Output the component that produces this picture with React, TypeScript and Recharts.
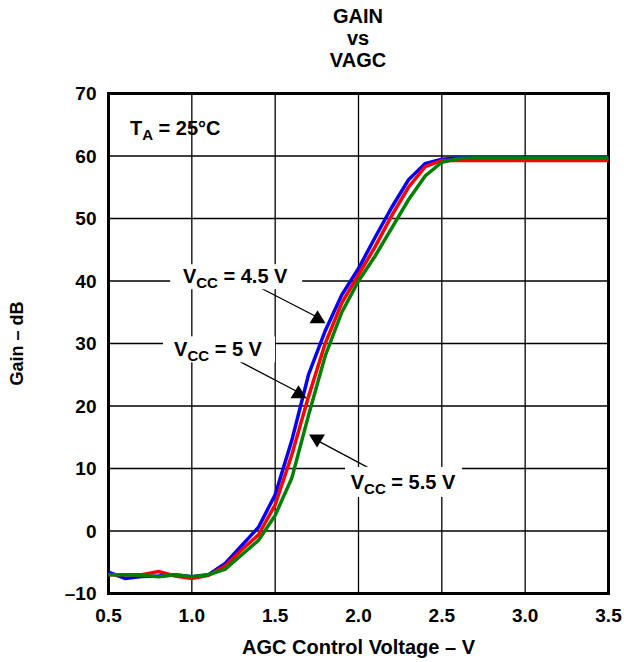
import React from 'react';
import {
  LineChart,
  Line,
  XAxis,
  YAxis,
  CartesianGrid,
  ReferenceArea,
  ReferenceLine,
  ReferenceDot,
} from 'recharts';

// AGC control voltage (V)
const voltages = [
  0.5, 0.6, 0.7, 0.8, 0.9, 1.0, 1.1, 1.2, 1.3, 1.4, 1.5, 1.6, 1.7, 1.8, 1.9, 2.0,
  2.1, 2.2, 2.3, 2.4, 2.5, 2.6, 2.7, 2.8, 2.9, 3.0, 3.1, 3.2, 3.3, 3.4, 3.5,
];

// Gain (dB) per supply voltage
const gainVcc45 = [
  -6.6, -7.6, -7.3, -7.2, -7.0, -7.3, -7.0, -5.2, -2.3, 0.6, 5.8, 14.5, 25, 32, 37.8, 42,
  47, 51.8, 56.2, 58.8, 59.5, 59.7, 59.7, 59.7, 59.7, 59.7, 59.7, 59.7, 59.7, 59.7, 59.7,
];
const gainVcc5 = [
  -7.0, -7.0, -7.0, -6.5, -7.2, -7.6, -7.1, -5.6, -3.0, -0.6, 4.2, 12.2, 21.5, 30, 36.5, 41,
  45.5, 50.5, 55, 58.3, 59.3, 59.3, 59.3, 59.3, 59.3, 59.3, 59.3, 59.3, 59.3, 59.3, 59.3,
];
const gainVcc55 = [
  -7.0, -7.0, -7.1, -7.3, -7.0, -7.3, -7.0, -6.1, -3.8, -1.5, 2.5, 8.5, 18.5, 28, 35, 40,
  44, 48.5, 53, 56.8, 59.0, 59.6, 59.7, 59.7, 59.7, 59.7, 59.7, 59.7, 59.7, 59.7, 59.7,
];

const xTicks = [0.5, 1.0, 1.5, 2.0, 2.5, 3.0, 3.5];
const yTicks = [-10, 0, 10, 20, 30, 40, 50, 60, 70];

const data = voltages.map((v, i) => ({
  v,
  vcc45: gainVcc45[i],
  vcc5: gainVcc5[i],
  vcc55: gainVcc55[i],
}));

const FONT = '"Liberation Sans", Arial, sans-serif';

// label box: [dx left, dx right, dy top, dy bottom] around center
const vccLabel = (main: string, box: number[]) => (props: any) => {
  const { cx, cy } = props;
  return (
    <g>
      <rect
        x={cx + box[0]}
        y={cy + box[2]}
        width={box[1] - box[0]}
        height={box[3] - box[2]}
        fill="#fff"
      />
      <text
        x={cx}
        y={cy + 6}
        textAnchor="middle"
        fontFamily={FONT}
        fontWeight="bold"
        fontSize={20}
        fill="#000"
      >
        V
        <tspan fontSize={15} dy={5}>CC</tspan>
        <tspan dy={-5}>{main}</tspan>
      </text>
    </g>
  );
};

const triangle = (up: boolean) => (props: any) => {
  const { cx, cy } = props;
  const pts = up
    ? `${cx},${cy - 7} ${cx - 8},${cy + 6} ${cx + 8},${cy + 6}`
    : `${cx},${cy + 7} ${cx - 8},${cy - 6} ${cx + 8},${cy - 6}`;
  return <polygon points={pts} fill="#000" />;
};

const taLabel = (props: any) => {
  const { cx, cy } = props;
  return (
    <text x={cx} y={cy + 7} fontFamily={FONT} fontWeight="bold" fontSize={20} fill="#000">
      T
      <tspan fontSize={15} dy={5}>A</tspan>
      <tspan dy={-5}> = 25°C</tspan>
    </text>
  );
};

const App = () => (
  <div style={{ position: 'absolute', left: 0, top: 0, width: 624, height: 662, background: '#fff' }}>
    <svg width={624} height={80} style={{ position: 'absolute', left: 0, top: 0 }}>
      <g fontFamily={FONT} fontWeight="bold" fontSize={20} textAnchor="middle" fill="#000">
        <text x={358} y={23}>GAIN</text>
        <text x={358} y={45}>vs</text>
        <text x={358} y={67}>VAGC</text>
      </g>
    </svg>
    <LineChart
      width={624}
      height={662}
      data={data}
      margin={{ top: 93.5, right: 15.5, left: 0, bottom: 0 }}
      style={{ position: 'absolute', left: 0, top: 0 }}
    >
      <CartesianGrid stroke="#000" strokeWidth={1.3} />
      <XAxis
        dataKey="v"
        type="number"
        domain={[0.5, 3.5]}
        ticks={xTicks}
        tickFormatter={(t: number) => t.toFixed(1)}
        height={68.5}
        axisLine={false}
        tickLine={false}
        tickSize={0}
        tickMargin={15}
        tick={{ fill: '#000', fontSize: 19, fontWeight: 'bold', fontFamily: FONT }}
        label={{
          value: 'AGC Control Voltage – V',
          position: 'insideBottom',
          offset: 8,
          fill: '#000',
          fontSize: 20,
          fontWeight: 'bold',
          fontFamily: FONT,
        }}
      />
      <YAxis
        type="number"
        domain={[-10, 70]}
        ticks={yTicks}
        tickFormatter={(t: number) => (t < 0 ? '–' + Math.abs(t) : String(t))}
        width={108.5}
        axisLine={false}
        tickLine={false}
        tickSize={0}
        tickMargin={12}
        tick={{ fill: '#000', fontSize: 19, fontWeight: 'bold', fontFamily: FONT }}
        label={(p: any) => {
          const vb = p.viewBox || { x: 0, y: 93.5, height: 500 };
          const x = 17;
          const y = vb.y + vb.height / 2;
          return (
            <text
              x={x}
              y={y}
              transform={`rotate(-90 ${x} ${y})`}
              textAnchor="middle"
              dominantBaseline="central"
              fontFamily={FONT}
              fontWeight="bold"
              fontSize={18}
              fill="#000"
            >
              Gain – dB
            </text>
          );
        }}
      />
      <ReferenceArea x1={0.5} x2={3.5} y1={-10} y2={70} fill="none" stroke="#000" strokeWidth={3} />

      <ReferenceDot x={0.629} y={64.5} r={0} shape={taLabel} />
      <ReferenceDot x={1.26} y={40.6} r={0} shape={vccLabel(' = 4.5 V', [-65, 67, -13, 12])} />
      <ReferenceDot x={1.157} y={28.9} r={0} shape={vccLabel(' = 5 V', [-55, 57, -14, 12])} />
      <ReferenceDot x={2.267} y={7.7} r={0} shape={vccLabel(' = 5.5 V', [-58, 59, -16, 14])} />

      <ReferenceLine segment={[{ x: 1.419, y: 38.8 }, { x: 1.754, y: 34.2 }]} stroke="#000" strokeWidth={1.3} />
      <ReferenceLine segment={[{ x: 1.289, y: 27.1 }, { x: 1.64, y: 22.2 }]} stroke="#000" strokeWidth={1.3} />
      <ReferenceLine segment={[{ x: 2.117, y: 9.3 }, { x: 1.751, y: 14.5 }]} stroke="#000" strokeWidth={1.3} />

      <Line type="linear" dataKey="vcc45" stroke="#0000ff" strokeWidth={3.5} dot={false} isAnimationActive={false} />
      <Line type="linear" dataKey="vcc5" stroke="#ff0000" strokeWidth={3.5} dot={false} isAnimationActive={false} />
      <Line type="linear" dataKey="vcc55" stroke="#008000" strokeWidth={3.5} dot={false} isAnimationActive={false} />

      <ReferenceDot x={1.754} y={34.2} r={0} shape={triangle(true)} />
      <ReferenceDot x={1.64} y={22.2} r={0} shape={triangle(true)} />
      <ReferenceDot x={1.751} y={14.5} r={0} shape={triangle(false)} />
    </LineChart>
  </div>
);

export default App;
